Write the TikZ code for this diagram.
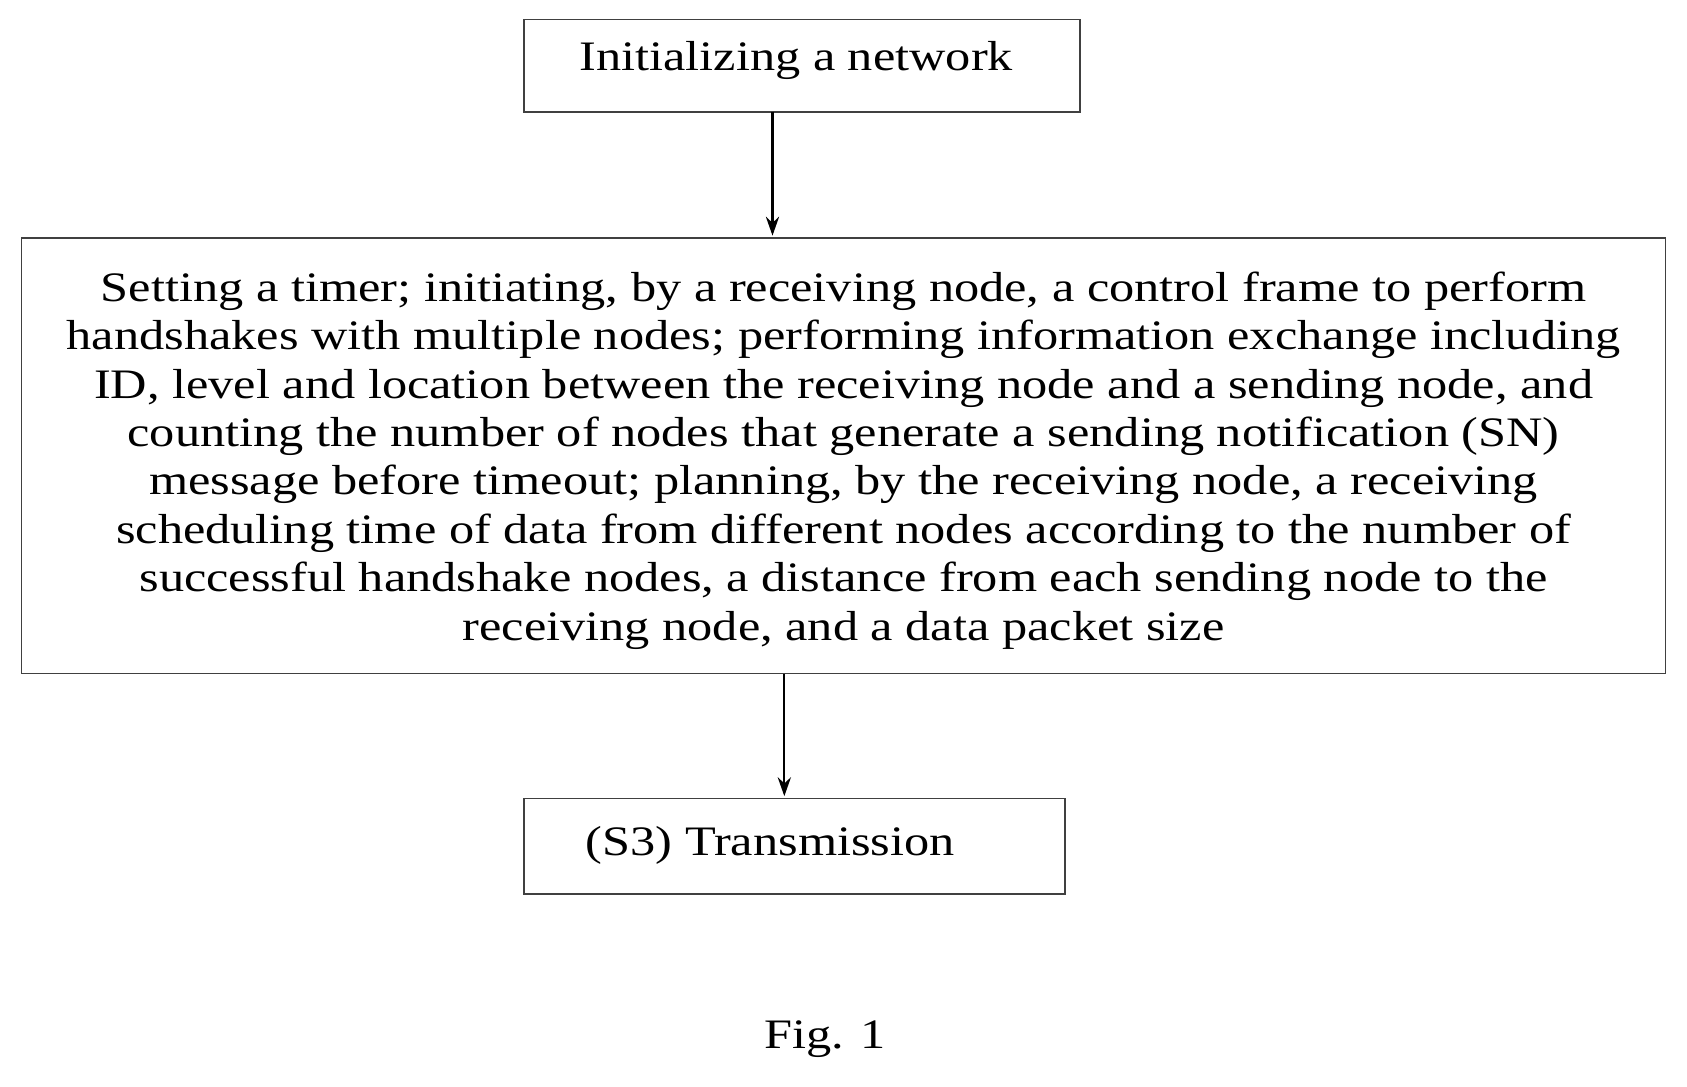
\documentclass[tikz,border=0pt]{standalone}
\usepackage{fontspec}
\setmainfont[FakeStretch=1.2]{Liberation Serif}
\usetikzlibrary{arrows.meta}
\begin{document}
\begin{tikzpicture}[x=0.02cm,y=-0.02cm,
  box/.style={draw=black!75,line width=0.8pt},
  txt/.style={font=\fontsize{22.2}{25.6}\selectfont,align=center,inner sep=0},
  arr/.style={-{Stealth[length=10pt,width=7pt]},line width=1.2pt}]
\useasboundingbox (0,0) rectangle (1568,1010);
\draw[box] (487,18) rectangle (1004,104);
\node[txt] (t1) at (740,56) {Initializing a network};
\coordinate (b1) at (718,104);
\draw[box] (20,221) rectangle (1548,626);
\node[txt] (t2) at (784,428) {Setting a timer; initiating, by a receiving node, a control frame to perform\\
handshakes with multiple nodes; performing information exchange including\\
ID, level and location between the receiving node and a sending node, and\\
counting the number of nodes that generate a sending notification (SN)\\
message before timeout; planning, by the receiving node, a receiving\\
scheduling time of data from different nodes according to the number of\\
successful handshake nodes, a distance from each sending node to the\\
receiving node, and a data packet size};
\coordinate (a2) at (718,219);
\coordinate (b2) at (729,626);
\draw[box] (487,742) rectangle (990,831);
\node[txt] (t3) at (716,786) {(S3) Transmission};
\coordinate (a3) at (729,740);
\draw[arr] (b1) -- (a2);
\draw[arr] (b2) -- (a3);
\node[txt] (fig) at (767,966) {Fig. 1};
\end{tikzpicture}
\end{document}
